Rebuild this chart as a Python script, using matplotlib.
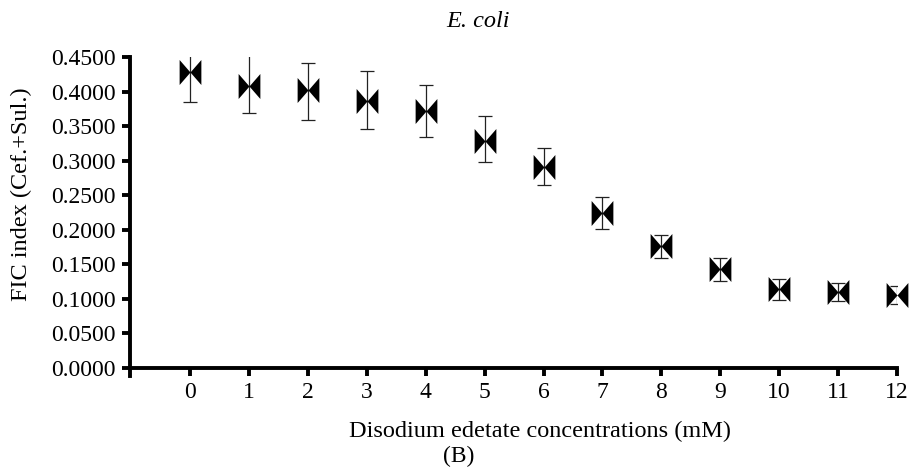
import numpy as np
import matplotlib.pyplot as plt

plt.rcParams['font.family'] = ['Liberation Serif', 'DejaVu Serif']

conc = [0, 1, 2, 3, 4, 5, 6, 7, 8, 9, 10, 11, 12]
fic_mean = [0.428, 0.408, 0.402, 0.386, 0.372, 0.328, 0.291, 0.224, 0.177, 0.143, 0.114, 0.110, 0.106]
err_top = [0.456, 0.458, 0.442, 0.429, 0.410, 0.365, 0.318, 0.247, 0.192, 0.159, 0.129, 0.123, 0.119]
err_bottom = [0.385, 0.369, 0.359, 0.346, 0.334, 0.298, 0.265, 0.201, 0.159, 0.126, 0.099, 0.097, 0.093]
y_ticks = np.arange(0, 0.4501, 0.05)

fic_mean = np.array(fic_mean)
yerr = [fic_mean - np.array(err_bottom), np.array(err_top) - fic_mean]

# bow-tie marker: two triangles pointing at each other
bowtie = [(-1, -1.15), (-1, 1.15), (0, 0), (1, 1.15), (1, -1.15), (0, 0), (-1, -1.15)]

fig = plt.figure(figsize=(9.14, 4.67), dpi=100)
ax = fig.add_axes([0.1422, 0.212, 0.8392, 0.666])

ax.errorbar(conc, fic_mean, yerr=yerr, fmt='none', ecolor='#222222',
            elinewidth=0.9, capsize=5, capthick=0.9)
ax.plot(conc, fic_mean, linestyle='none', marker=bowtie, markersize=18,
        color='black', markeredgewidth=0, clip_on=False, zorder=5)

ax.set_xlim(-1.02, 12)
ax.set_ylim(0, 0.45)
ax.set_xticks(conc)
ax.set_yticks(y_ticks)
ax.set_yticklabels([f'{v:.4f}' for v in y_ticks])

for s in ['top', 'right']:
    ax.spines[s].set_visible(False)
for s in ['left', 'bottom']:
    ax.spines[s].set_linewidth(2.8)
ax.spines['left'].set_bounds(-0.012, 0.45)
ax.tick_params(axis='both', width=2.8, length=6, labelsize=17, pad=4)

ax.set_xlabel('Disodium edetate concentrations (mM)', fontsize=17.5)
ax.set_ylabel('FIC index (Cef.+Sul.)', fontsize=17.5)
ax.xaxis.set_label_coords(0.535, -0.17)
ax.yaxis.set_label_coords(-0.128, 0.56)

fig.text(0.523, 0.955, 'E. coli', style='italic', fontsize=17.5, ha='center', va='center')
fig.text(0.502, 0.022, '(B)', fontsize=17, ha='center', va='center')

fig.savefig('out.png', dpi=100)
